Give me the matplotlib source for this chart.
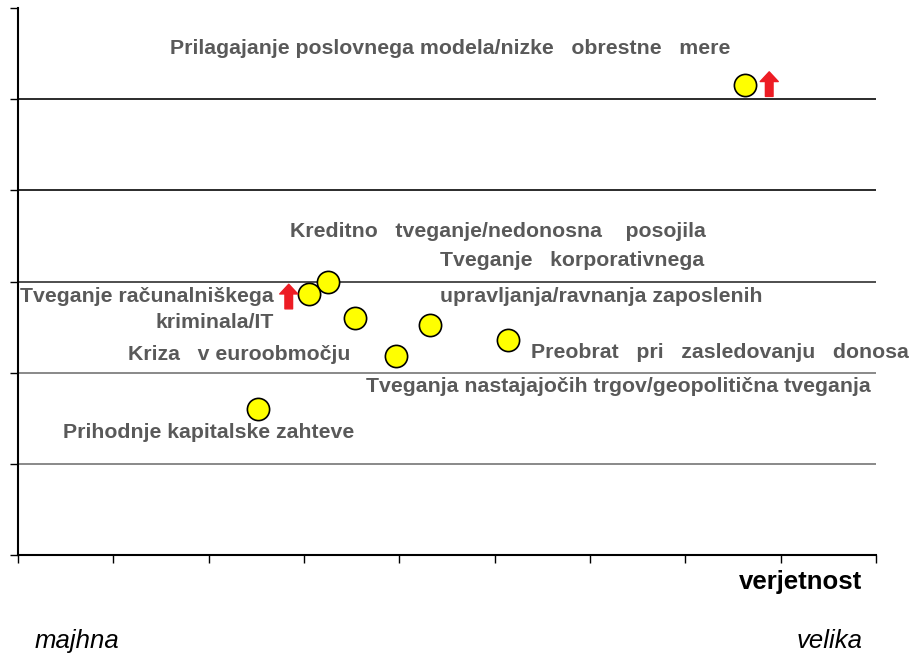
import matplotlib
matplotlib.use('Agg')
import matplotlib.pyplot as plt

plt.rcParams['font.family'] = ['Liberation Sans', 'DejaVu Sans']

# risk map: x = verjetnost, y = vpliv
risk_x = [7.63, 3.25, 3.05, 3.54, 4.32, 3.97, 5.14, 2.52]
risk_y = [5.16, 2.99, 2.86, 2.60, 2.52, 2.18, 2.36, 1.60]

# arrows showing rising risks (x, bottom, top)
arrow_x = [7.88, 2.84]
arrow_lo = [5.03, 2.70]
arrow_hi = [5.30, 2.97]

labels = [
    'Prilagajanje poslovnega modela/nizke   obrestne   mere',
    'Kreditno   tveganje/nedonosna    posojila',
    'Tveganje   korporativnega',
    'upravljanja/ravnanja zaposlenih',
    'Tveganje računalniškega',
    'kriminala/IT',
    'Kriza   v euroobmočju',
    'Preobrat   pri   zasledovanju   donosa',
    'Tveganja nastajajočih trgov/geopolitična tveganja',
    'Prihodnje kapitalske zahteve',
]
label_x = [1.59, 2.85, 4.43, 4.43, 2.68, 2.68, 1.15, 5.38, 3.65, 0.47]
label_y = [5.56, 3.55, 3.23, 2.83, 2.84, 2.55, 2.20, 2.22, 1.85, 1.34]
label_ha = ['left', 'left', 'left', 'left', 'right', 'right', 'left', 'left', 'left', 'left']

grid_y = [1, 2, 3, 4, 5]
grid_col = ['#808080', '#808080', '#404040', '#1a1a1a', '#1a1a1a']

fig = plt.figure(figsize=(9.12, 6.53), dpi=100)
ax = fig.add_axes([18/912, 98/653, 858/912, 547/653])
ax.set_xlim(0, 9)
ax.set_ylim(0, 6)

for gy, gc in zip(grid_y, grid_col):
    ax.axhline(gy, color=gc, lw=1.3, zorder=1)

ax.plot(risk_x, risk_y, 'o', ms=16, mfc='#ffff00', mec='black', mew=1.2,
        zorder=3, clip_on=False)

for ax_, lo, hi in zip(arrow_x, arrow_lo, arrow_hi):
    ax.annotate('', xy=(ax_, hi), xytext=(ax_, lo),
                arrowprops=dict(arrowstyle='simple,head_length=0.7,head_width=1.3,tail_width=0.55',
                                color='#ed1c24', shrinkA=0, shrinkB=0, mutation_scale=10),
                zorder=4)

for t, lx, ly, ha in zip(labels, label_x, label_y, label_ha):
    ax.text(lx, ly, t, ha=ha, va='center', fontsize=15.3, fontweight='bold',
            color='#595959', zorder=5)

ax.set_xticks(range(10))
ax.set_yticks(range(7))
ax.set_xticklabels([])
ax.set_yticklabels([])
ax.tick_params(axis='both', direction='out', length=6, width=1, color='black')
for s in ['top', 'right']:
    ax.spines[s].set_visible(False)
for s in ['left', 'bottom']:
    ax.spines[s].set_linewidth(1.5)
    ax.spines[s].set_color('black')

fig.text(862/912, 1 - 582/653, 'verjetnost', ha='right', va='center',
         fontsize=18.5, fontweight='bold', color='black')
fig.text(35/912, 1 - 641/653, 'majhna', ha='left', va='center',
         fontsize=18.5, style='italic', color='black')
fig.text(863/912, 1 - 641/653, 'velika', ha='right', va='center',
         fontsize=18.5, style='italic', color='black')

fig.savefig('out.png', dpi=100)
